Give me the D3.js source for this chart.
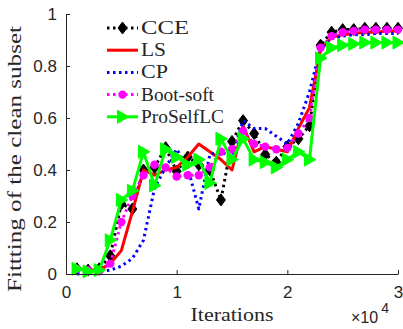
<!DOCTYPE html>
<html><head><meta charset="utf-8">
<script src="https://cdn.jsdelivr.net/npm/d3@7"></script>
<style>body{margin:0;background:#fff}svg{display:block}.sf{font-family:"Liberation Serif","Times New Roman",Times,serif;font-weight:400}</style>
</head><body>
<svg id="c" width="403" height="329"></svg>
<script>
const iterations = d3.range(1, 31).map(k => k * 1000);
const cce      = [0.02,0.015,0.02,0.07,0.27,0.25,0.40,0.41,0.486,0.395,0.45,0.42,0.40,0.285,0.51,0.59,0.54,0.46,0.43,0.49,0.52,0.57,0.88,0.93,0.94,0.94,0.945,0.945,0.945,0.945];
const ls       = [0.02,0.015,0.015,0.04,0.09,0.24,0.40,0.38,0.40,0.41,0.45,0.50,0.47,0.44,0.40,0.57,0.47,0.49,0.48,0.47,0.56,0.64,0.86,0.91,0.92,0.925,0.93,0.93,0.935,0.935];
const cp       = [0.0,0.005,0.01,0.015,0.03,0.06,0.13,0.33,0.41,0.48,0.41,0.25,0.46,0.47,0.45,0.59,0.56,0.56,0.53,0.50,0.58,0.70,0.87,0.905,0.915,0.92,0.92,0.925,0.925,0.925];
const bootsoft = [0.02,0.015,0.01,0.04,0.20,0.30,0.38,0.42,0.41,0.375,0.38,0.38,0.41,0.47,0.48,0.55,0.50,0.49,0.48,0.485,0.54,0.60,0.87,0.915,0.93,0.935,0.94,0.94,0.94,0.94];
const proselflc= [0.02,0.01,0.015,0.13,0.285,0.32,0.47,0.34,0.48,0.45,0.42,0.44,0.35,0.52,0.44,0.52,0.44,0.43,0.41,0.44,0.47,0.44,0.83,0.87,0.88,0.885,0.89,0.89,0.89,0.89];
const xTicks = [0, 10000, 20000, 30000];
const xTickLabels = ["0","1","2","3"];
const yTicks = [0, 0.2, 0.4, 0.6, 0.8, 1];
const yTickLabels = ["0","0.2","0.4","0.6","0.8","1"];
const seriesNames = ["CCE","LS","CP","Boot-soft","ProSelfLC"];

const svg = d3.select("#c");
const x = d3.scaleLinear().domain([0, 30000]).range([66, 398]);
const y = d3.scaleLinear().domain([0, 1]).range([274, 14]);
const axisColor = "#262626";
const sans = "Liberation Sans, Arial, sans-serif";

const series = [
  {name: seriesNames[0], vals: cce, color: "#000000", dash: "2.5,3.5", marker: "diamond"},
  {name: seriesNames[1], vals: ls, color: "#ff0000", dash: null, marker: null},
  {name: seriesNames[2], vals: cp, color: "#0000ff", dash: "2.5,3.5", marker: null},
  {name: seriesNames[3], vals: bootsoft, color: "#ff00ff", dash: "2.5,3.5", marker: "circle"},
  {name: seriesNames[4], vals: proselflc, color: "#00ff00", dash: null, marker: "triangle"}
];

function drawMarker(g, type, cx, cy, color) {
  if (type === "diamond") {
    g.append("path").attr("d", `M${cx},${cy-6}L${cx+4.5},${cy}L${cx},${cy+6}L${cx-4.5},${cy}Z`)
      .attr("fill", color).attr("stroke", color).attr("stroke-width", 1);
  } else if (type === "circle") {
    g.append("circle").attr("cx", cx).attr("cy", cy).attr("r", 4.2).attr("fill", color);
  } else if (type === "triangle") {
    g.append("path").attr("d", `M${cx+6.5},${cy}L${cx-5},${cy-6.5}L${cx-5},${cy+6.5}Z`)
      .attr("fill", color).attr("stroke", color).attr("stroke-width", 1);
  }
}

const plot = svg.append("g");
const line = d3.line().x((d, i) => x(iterations[i])).y(d => y(d));
series.forEach(s => {
  const g = plot.append("g");
  g.append("path").datum(s.vals).attr("d", line)
    .attr("fill", "none").attr("stroke", s.color).attr("stroke-width", 3)
    .attr("stroke-linejoin", "round")
    .attr("stroke-dasharray", s.dash);
  if (s.marker) s.vals.forEach((v, i) => drawMarker(g, s.marker, x(iterations[i]), y(v), s.color));
});

// axes
const xAxis = d3.axisBottom(x).tickValues(xTicks).tickFormat((d, i) => xTickLabels[i]).tickSizeInner(-4).tickSizeOuter(0).tickPadding(12);
const gx = svg.append("g").attr("transform", "translate(0,274)").call(xAxis);
const yAxis = d3.axisLeft(y).tickValues(yTicks).tickFormat((d, i) => yTickLabels[i]).tickSizeInner(-4).tickSizeOuter(0).tickPadding(9);
const gy = svg.append("g").attr("transform", "translate(66,0)").call(yAxis);
[gx, gy].forEach(g => {
  g.attr("font-family", null).attr("font-size", null);
  g.select(".domain").attr("stroke", axisColor).attr("stroke-width", 1);
  g.selectAll(".tick line").attr("stroke", axisColor);
  g.selectAll(".tick text").attr("fill", axisColor).attr("font-family", sans).attr("font-size", 17);
});

// labels
svg.append("text").attr("class", "sf").attr("x", 232).attr("y", 321).attr("text-anchor", "middle")
  .attr("font-size", 19).attr("fill", axisColor)
  .attr("textLength", 83).attr("lengthAdjust", "spacingAndGlyphs").text("Iterations");
svg.append("text").attr("class", "sf").attr("transform", "translate(21,159) rotate(-90)").attr("text-anchor", "middle")
  .attr("font-size", 18.5).attr("fill", axisColor)
  .attr("textLength", 266).attr("lengthAdjust", "spacingAndGlyphs").text("Fittting of the clean subset");
const exp = svg.append("text").attr("x", 351).attr("y", 323).attr("font-family", sans).attr("font-size", 16).attr("fill", axisColor);
exp.append("tspan").text("×10");
exp.append("tspan").attr("dx", 3).attr("dy", -10).attr("font-size", 14).text("4");

// legend
const leg = svg.append("g");
const legW = [48, 25, 27, 73, 83];
series.forEach((s, i) => {
  const ly = 28 + i * 22.2;
  leg.append("line").attr("x1", 107).attr("x2", 138).attr("y1", ly).attr("y2", ly)
    .attr("stroke", s.color).attr("stroke-width", 3).attr("stroke-dasharray", s.dash);
  if (s.marker) drawMarker(leg, s.marker, 122.5, ly, s.color);
  leg.append("text").attr("class", "sf").attr("x", 141).attr("y", ly + 6).attr("font-size", 18)
    .attr("textLength", legW[i]).attr("lengthAdjust", "spacingAndGlyphs")
    .attr("fill", axisColor).text(s.name);
});
</script>
</body></html>
